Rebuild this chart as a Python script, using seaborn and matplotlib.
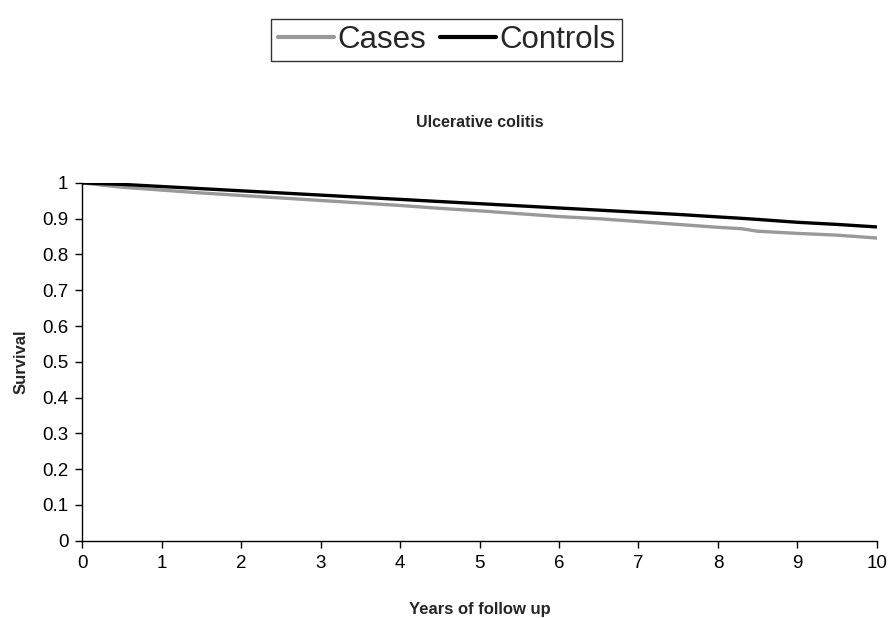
import numpy as np
import pandas as pd
import matplotlib
matplotlib.use("Agg")
import matplotlib.pyplot as plt
import seaborn as sns

# survival curves
years = [0, 0.5, 1, 1.5, 2, 2.5, 3, 3.5, 4, 4.5, 5, 5.5, 6, 6.5, 7, 7.5, 8, 8.3, 8.5, 9, 9.5, 10]
cases = [1.0, 0.988, 0.980, 0.972, 0.965, 0.958, 0.951, 0.944, 0.937, 0.929, 0.922,
         0.914, 0.906, 0.900, 0.892, 0.884, 0.876, 0.872, 0.865, 0.859, 0.854, 0.846]
controls = [1.0, 0.996, 0.990, 0.984, 0.978, 0.972, 0.966, 0.960, 0.954, 0.948, 0.942,
            0.936, 0.930, 0.924, 0.918, 0.912, 0.905, 0.901, 0.898, 0.890, 0.884, 0.877]

df = pd.DataFrame({"years": years, "Cases": cases, "Controls": controls})
long = df.melt(id_vars="years", var_name="group", value_name="survival")

sns.set_style("ticks")
plt.rcParams["font.family"] = ["Liberation Sans", "DejaVu Sans"]

fig = plt.figure(figsize=(8.93, 6.18), dpi=100)
ax = fig.add_axes([0.092, 0.125, 0.890, 0.579])

sns.lineplot(data=long, x="years", y="survival", hue="group",
             palette={"Cases": "#999999", "Controls": "#000000"},
             linewidth=2.4, ax=ax, legend=False)

ax.set_xlim(0, 10)
ax.set_ylim(0, 1)
ax.set_xticks(range(0, 11))
ax.set_yticks(np.arange(0, 1.01, 0.1))
ax.set_yticklabels(["0", "0.1", "0.2", "0.3", "0.4", "0.5", "0.6", "0.7", "0.8", "0.9", "1"])
ax.tick_params(direction="out", length=5, width=1, labelsize=13.5, colors="black", pad=5)
for s in ["left", "bottom"]:
    ax.spines[s].set_linewidth(1)
    ax.spines[s].set_color("black")
sns.despine(ax=ax)

ax.set_xlabel("Years of follow up", fontsize=12, fontweight="bold", labelpad=22)
ax.set_ylabel("Survival", fontsize=12, fontweight="bold", labelpad=10)
ax.set_title("Ulcerative colitis", fontsize=11.5, fontweight="bold", pad=40)

handles = [plt.Line2D([], [], color="#999999", lw=3),
           plt.Line2D([], [], color="#000000", lw=3)]
leg = fig.legend(handles, ["Cases", "Controls"], loc="upper center",
                 bbox_to_anchor=(0.5, 0.98), ncol=2, fontsize=22.5,
                 frameon=True, fancybox=False, handlelength=1.8,
                 handletextpad=0.1, columnspacing=0.45, borderpad=0.2,
                 borderaxespad=0.2)
leg.get_frame().set_edgecolor("black")
leg.get_frame().set_linewidth(1)

fig.savefig("out.png", dpi=100)
